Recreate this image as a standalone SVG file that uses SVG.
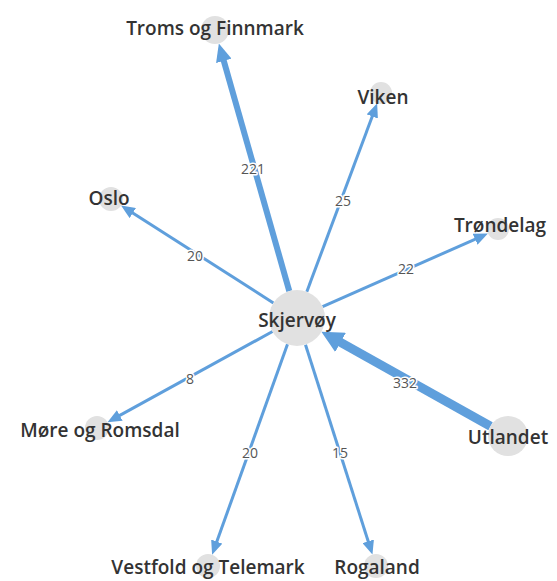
<svg xmlns="http://www.w3.org/2000/svg" width="557" height="581" viewBox="0 0 557 581">
<style>
.bg{fill:#ffffff}
.node circle{fill:#e1e1e1}
.node text{font-family:"Open Sans","Noto Sans","Liberation Sans",sans-serif;font-size:19px;font-weight:600;fill:#333333;text-anchor:middle;dominant-baseline:central}
.edge{stroke:#5f9fdc;fill:none;stroke-linecap:butt}
.w1{stroke-width:3}
.w2{stroke-width:6}
.w3{stroke-width:9}
.elabel{font-family:"Open Sans","Noto Sans","Liberation Sans",sans-serif;font-size:14px;fill:#555555;text-anchor:middle;dominant-baseline:central;stroke:#ffffff;stroke-width:3px;paint-order:stroke;stroke-linejoin:round}
</style>
<defs>
<marker id="a1" markerUnits="userSpaceOnUse" markerWidth="14" markerHeight="12" refX="1" refY="6" orient="auto"><path d="M0,0 L14,6 L0,12 z" fill="#5f9fdc"/></marker>
<marker id="a2" markerUnits="userSpaceOnUse" markerWidth="18" markerHeight="16" refX="1" refY="8" orient="auto"><path d="M0,0 L18,8 L0,16 z" fill="#5f9fdc"/></marker>
<marker id="a3" markerUnits="userSpaceOnUse" markerWidth="22" markerHeight="22" refX="1" refY="11" orient="auto"><path d="M0,0 L22,11 L0,22 z" fill="#5f9fdc"/></marker>
</defs>
<rect class="bg" x="0" y="0" width="557" height="581"/>
<g id="connectors">
<line class="edge w2" x1="289.3" y1="291.1" x2="223.5" y2="59.9" marker-end="url(#a2)"/>
<line class="edge w1" x1="306.8" y1="291.8" x2="372.6" y2="115.5" marker-end="url(#a1)"/>
<line class="edge w1" x1="273.4" y1="302.9" x2="132.0" y2="212.5" marker-end="url(#a1)"/>
<line class="edge w1" x1="322.6" y1="306.7" x2="476.0" y2="238.8" marker-end="url(#a1)"/>
<line class="edge w1" x1="272.5" y1="331.5" x2="118.9" y2="415.9" marker-end="url(#a1)"/>
<line class="edge w1" x1="287.5" y1="344.3" x2="216.5" y2="542.5" marker-end="url(#a1)"/>
<line class="edge w1" x1="305.5" y1="344.7" x2="368.5" y2="542.2" marker-end="url(#a1)"/>
<line class="edge w3" x1="490.5" y1="426.2" x2="339.7" y2="341.9" marker-end="url(#a3)"/>
</g>
<g id="node-skjervoy" class="node"><circle cx="297" cy="318" r="28"/><text x="297" y="320">Skjervøy</text></g>
<g id="node-troms" class="node"><circle cx="215" cy="30" r="14"/><text x="215" y="28">Troms og Finnmark</text></g>
<g id="node-viken" class="node"><circle cx="381" cy="93" r="11"/><text x="383" y="97">Viken</text></g>
<g id="node-oslo" class="node"><circle cx="111" cy="199" r="12"/><text x="109" y="198">Oslo</text></g>
<g id="node-trondelag" class="node"><circle cx="498" cy="229" r="11"/><text x="500" y="225">Trøndelag</text></g>
<g id="node-utlandet" class="node"><circle cx="508" cy="436" r="20"/><text x="508" y="437">Utlandet</text></g>
<g id="node-more" class="node"><circle cx="97" cy="428" r="12"/><text x="100" y="430">Møre og Romsdal</text></g>
<g id="node-vestfold" class="node"><circle cx="208" cy="566" r="12"/><text x="208" y="567">Vestfold og Telemark</text></g>
<g id="node-rogaland" class="node"><circle cx="376" cy="566" r="12"/><text x="377" y="567">Rogaland</text></g>
<g id="edge-labels">
<text class="elabel" x="253" y="168">221</text>
<text class="elabel" x="343" y="200">25</text>
<text class="elabel" x="195" y="255">20</text>
<text class="elabel" x="406" y="268">22</text>
<text class="elabel" x="190" y="378">8</text>
<text class="elabel" x="405" y="382">332</text>
<text class="elabel" x="250" y="452">20</text>
<text class="elabel" x="340" y="452">15</text>
</g>
</svg>
